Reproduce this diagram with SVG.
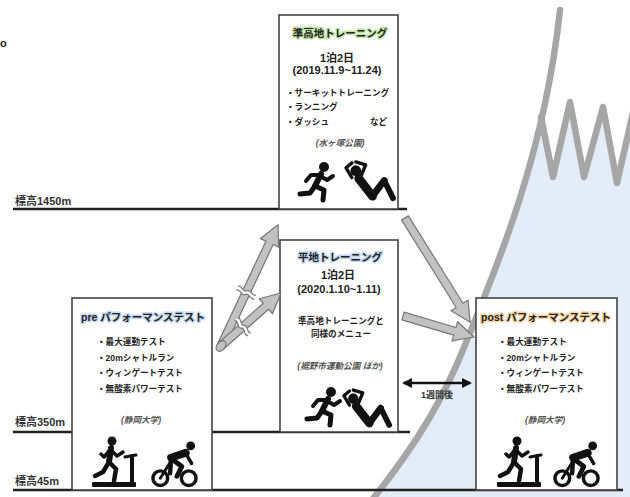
<svg xmlns="http://www.w3.org/2000/svg" xmlns:xlink="http://www.w3.org/1999/xlink" width="630" height="497" viewBox="0 0 630 497">
  <style>
    text { font-family: "Liberation Sans", "Noto Sans CJK JP", sans-serif; fill: #222; }
    .alt { font-size: 11px; font-weight: bold; fill: #333; }
    .ground { stroke: #222; stroke-width: 2.5; fill: none; }
    .box { fill: #fff; stroke: #444; stroke-width: 1.6; }
    .title { font-size: 10.5px; font-weight: bold; text-anchor: middle; paint-order: stroke; stroke-width: 3; stroke-linejoin: round; }
    .t-green { stroke: #c2e8a8; }
    .t-blue { stroke: #c4d8f2; }
    .t-orange { stroke: #fad6a8; }
    .mid { font-size: 11px; text-anchor: middle; font-weight: bold; }
    .item { font-size: 8.6px; font-weight: bold; }
    .place { font-size: 8.6px; font-style: italic; fill: #555; text-anchor: middle; font-weight: bold; }
    .block { fill: #c2c2c2; stroke: #777; stroke-width: 1.2; stroke-linejoin: round; }
    .brk { fill: none; stroke: #777; stroke-width: 1.2; }
    .ridge { fill: none; stroke: #a6a6a6; stroke-width: 6.5; stroke-linecap: round; stroke-linejoin: round; }
    .ico { stroke: #111; fill: none; stroke-linecap: round; stroke-linejoin: round; }
  </style>
  <defs>
    <clipPath id="belowRidge">
      <polygon points="541,117 553,177 570,102 584,177 603,107 617,183 632,110 632,497 300,497 300,117"/>
    </clipPath>
    <marker id="dblHead" viewBox="0 0 10 10" refX="8" refY="5" markerWidth="4" markerHeight="4" orient="auto-start-reverse">
      <path d="M0,0 L10,5 L0,10 Z" fill="#111"/>
    </marker>
    <!-- running pictogram -->
    <symbol id="runner" viewBox="0 0 40 42">
      <circle cx="27" cy="6" r="5" fill="#111"/>
      <g class="ico">
        <path d="M24,13 L18,25" stroke-width="6"/>
        <path d="M23,15 L30,19 L36,15" stroke-width="4"/>
        <path d="M22,14 L14,14 L9,20" stroke-width="4"/>
        <path d="M18,25 L27,29 L26,39" stroke-width="5"/>
        <path d="M18,25 L13,32 L3,33" stroke-width="5"/>
      </g>
    </symbol>
    <!-- sit-up pictogram -->
    <symbol id="situp" viewBox="0 0 55 45">
      <circle cx="13" cy="12" r="5.5" fill="#111"/>
      <g class="ico">
        <path d="M18,18 L23,6 L13,3" stroke-width="3.5"/>
        <path d="M9,19 L3,9 L9,4" stroke-width="3.5"/>
        <path d="M16,20 L30,38" stroke-width="9"/>
        <path d="M30,38 L42,22" stroke-width="7"/>
        <path d="M42,22 L51,40" stroke-width="6"/>
      </g>
    </symbol>
    <!-- treadmill pictogram -->
    <symbol id="treadmill" viewBox="0 0 46 52">
      <rect x="0" y="46" width="44" height="5" rx="1" fill="#111"/>
      <circle cx="20" cy="5" r="4.5" fill="#111"/>
      <g class="ico">
        <path d="M40,47 V20" stroke-width="4"/>
        <path d="M33,21 L44,19" stroke-width="3"/>
        <path d="M19,12 L17,26" stroke-width="6"/>
        <path d="M19,14 L25,20 L31,16" stroke-width="3.5"/>
        <path d="M18,14 L12,21 L9,18" stroke-width="3.5"/>
        <path d="M17,26 L24,33 L22,45" stroke-width="4.5"/>
        <path d="M17,26 L11,36 L3,40" stroke-width="4.5"/>
      </g>
    </symbol>
    <!-- cyclist pictogram -->
    <symbol id="cyclist" viewBox="0 0 48 50">
      <circle cx="40" cy="7" r="4.5" fill="#111"/>
      <g class="ico">
        <circle cx="9" cy="40" r="7.5" stroke-width="3.5"/>
        <circle cx="38" cy="40" r="7.5" stroke-width="3.5"/>
        <path d="M35,14 L20,19" stroke-width="8"/>
        <path d="M35,15 L41,25" stroke-width="3.5"/>
        <path d="M20,20 L31,28 L26,38" stroke-width="5"/>
        <path d="M20,20 L19,35" stroke-width="4.5"/>
        <path d="M9,40 L19,24" stroke-width="3"/>
      </g>
    </symbol>
  </defs>

  <rect width="630" height="497" fill="#fff"/>
  <text x="0" y="47" style="font-size:11px;font-weight:bold">o</text>

  <!-- mountain slope with light-blue fill and jagged ridge -->
  <g id="mountain">
    <path d="M560,8 C545,150 500,260 465,345 C445,395 420,440 372,497 L632,497 L632,8 Z" fill="#e4ecf7" clip-path="url(#belowRidge)"/>
    <path class="ridge" d="M541,117 L553,177 L570,102 L584,177 L603,107 L617,183 L634,108"/>
    <path class="ridge" d="M560,10 C545,150 500,260 465,345 C445,395 420,440 372,500"/>
  </g>

  <!-- altitude levels -->
  <g id="altitudes">
    <line class="ground" x1="13" y1="209" x2="407" y2="209"/>
    <line class="ground" x1="13" y1="432" x2="410" y2="432"/>
    <line class="ground" x1="13" y1="490" x2="623" y2="490"/>
    <text class="alt" x="15" y="205">標高1450m</text>
    <text class="alt" x="15" y="426">標高350m</text>
    <text class="alt" x="15" y="485">標高45m</text>
  </g>

  <g id="node-highland">
    <rect class="box" x="279" y="15" width="119" height="194"/>
    <text class="title t-green" x="340" y="37">準高地トレーニング</text>
    <text class="mid" x="337" y="62">1泊2日</text>
    <text class="mid" x="337" y="74">(2019.11.9~11.24)</text>
    <text class="item" x="286" y="96">・サーキットトレーニング</text>
    <text class="item" x="286" y="110">・ランニング</text>
    <text class="item" x="286" y="125">・ダッシュ</text>
    <text class="item" x="370" y="125">など</text>
    <text class="place" x="340" y="146">(水ヶ塚公園)</text>
    <use xlink:href="#runner" x="297" y="161" width="40" height="42"/>
    <use xlink:href="#situp" x="343" y="159" width="54" height="44"/>
  </g>

  <g id="node-flatland">
    <rect class="box" x="280" y="240" width="118" height="192"/>
    <text class="title t-blue" x="340" y="261">平地トレーニング</text>
    <text class="mid" x="338" y="279">1泊2日</text>
    <text class="mid" x="339" y="293">(2020.1.10~1.11)</text>
    <text class="item" x="341" y="324" text-anchor="middle">準高地トレーニングと</text>
    <text class="item" x="341" y="337" text-anchor="middle">同様のメニュー</text>
    <text class="place" x="340" y="369">(裾野市運動公園 ほか)</text>
    <use xlink:href="#runner" x="304" y="386" width="40" height="42"/>
    <use xlink:href="#situp" x="341" y="387" width="52" height="43"/>
  </g>

  <g id="node-pre">
    <rect class="box" x="72" y="298" width="140" height="192"/>
    <text class="title t-blue" x="143" y="321">pre パフォーマンステスト</text>
    <text class="item" x="97" y="345">・最大運動テスト</text>
    <text class="item" x="97" y="361">・20mシャトルラン</text>
    <text class="item" x="97" y="376">・ウィンゲートテスト</text>
    <text class="item" x="97" y="392">・無酸素パワーテスト</text>
    <text class="place" x="141" y="423">(静岡大学)</text>
    <use xlink:href="#treadmill" x="92" y="436" width="46" height="52"/>
    <use xlink:href="#cyclist" x="151" y="439" width="48" height="49"/>
  </g>

  <g id="node-post">
    <rect class="box" x="476" y="298" width="141" height="192"/>
    <text class="title t-orange" x="546" y="321">post パフォーマンステスト</text>
    <text class="item" x="498" y="345">・最大運動テスト</text>
    <text class="item" x="498" y="361">・20mシャトルラン</text>
    <text class="item" x="498" y="376">・ウィンゲートテスト</text>
    <text class="item" x="498" y="392">・無酸素パワーテスト</text>
    <text class="place" x="545" y="423">(静岡大学)</text>
    <use xlink:href="#treadmill" x="497" y="436" width="46" height="52"/>
    <use xlink:href="#cyclist" x="553" y="439" width="48" height="49"/>
  </g>

  <g id="connectors">
    <!-- pre test to highland camp (interrupted) -->
    <g transform="translate(221,346) rotate(-64.8)">
      <path class="block" d="M0,-4 H114 V-10 L134,0 L114,10 V4 H0 Z"/>
      <path d="M57,-10 c4,2.5 -4,7.5 0,10 c4,2.5 -4,7.5 0,10 l4,0 c-4,-2.5 4,-7.5 0,-10 c-4,-2.5 4,-7.5 0,-10 z" fill="#fff"/>
      <path class="brk" d="M57,-10 c4,2.5 -4,7.5 0,10 c4,2.5 -4,7.5 0,10 M61,-10 c4,2.5 -4,7.5 0,10 c4,2.5 -4,7.5 0,10"/>
    </g>
    <!-- pre test to flatland camp (interrupted) -->
    <g transform="translate(221,346) rotate(-41.5)">
      <path class="block" d="M0,-4 H60 V-10 L80,0 L60,10 V4 H0 Z"/>
      <path d="M27,-10 c4,2.5 -4,7.5 0,10 c4,2.5 -4,7.5 0,10 l4,0 c-4,-2.5 4,-7.5 0,-10 c-4,-2.5 4,-7.5 0,-10 z" fill="#fff"/>
      <path class="brk" d="M27,-10 c4,2.5 -4,7.5 0,10 c4,2.5 -4,7.5 0,10 M31,-10 c4,2.5 -4,7.5 0,10 c4,2.5 -4,7.5 0,10"/>
    </g>
    <ellipse class="block" cx="221" cy="346" rx="6" ry="4" transform="rotate(-50 221 346)"/>
    <!-- camps to post test -->
    <path class="block" transform="translate(405,218) rotate(58)" d="M0,-4 H103 V-10 L123,0 L103,10 V4 H0 Z"/>
    <path class="block" transform="translate(403,316) rotate(16.5)" d="M0,-4 H54 V-10 L74,0 L54,10 V4 H0 Z"/>
    <!-- one-week interval -->
    <line x1="404" y1="383" x2="470" y2="383" stroke="#111" stroke-width="2.5" marker-start="url(#dblHead)" marker-end="url(#dblHead)"/>
    <text x="437" y="398" style="font-size:9px;font-weight:bold;text-anchor:middle;fill:#333">1週間後</text>
  </g>
</svg>
